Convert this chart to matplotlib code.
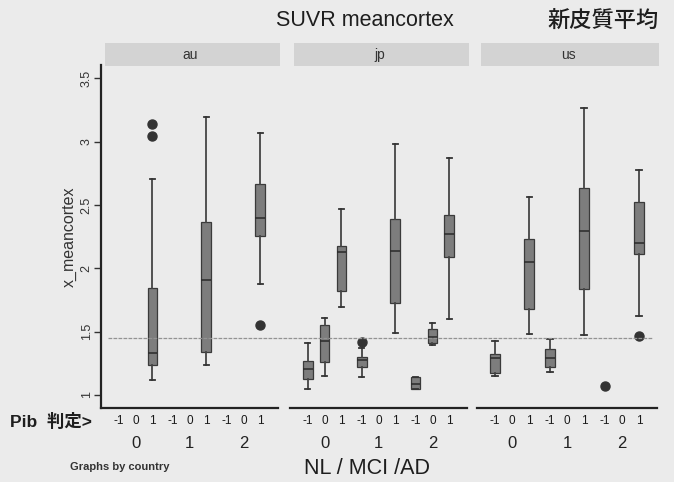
import matplotlib
matplotlib.use("Agg")
import matplotlib.pyplot as plt
from matplotlib import transforms
from matplotlib.patches import Rectangle
from matplotlib.lines import Line2D

plt.rcParams['font.family'] = ['Liberation Sans', 'Noto Sans CJK JP', 'DejaVu Sans']

# ---------------- data ----------------
countries = ["au", "jp", "us"]
groups = [0, 1, 2]            # NL / MCI / AD
pib_levels = [-1, 0, 1]       # Pib 判定
ref_value = 1.45

# each box: (group, pib)
au_keys = [(0, 1), (1, 1), (2, 1)]
au_whislo = [1.117, 1.236, 1.874]
au_q1 = [1.236, 1.341, 2.255]
au_med = [1.329, 1.905, 2.394]
au_q3 = [1.847, 2.363, 2.666]
au_whishi = [2.708, 3.197, 3.071]
au_fliers = [[3.045, 3.137], [], [1.55]]

jp_keys = [(0, -1), (0, 0), (0, 1), (1, -1), (1, 1), (2, -1), (2, 0), (2, 1)]
jp_whislo = [1.044, 1.149, 1.692, 1.144, 1.491, 1.044, 1.394, 1.602]
jp_q1 = [1.123, 1.257, 1.823, 1.223, 1.728, 1.044, 1.408, 2.087]
jp_med = [1.202, 1.428, 2.129, 1.276, 2.137, 1.086, 1.460, 2.268]
jp_q3 = [1.270, 1.552, 2.176, 1.297, 2.387, 1.144, 1.520, 2.419]
jp_whishi = [1.408, 1.610, 2.471, 1.368, 2.982, 1.144, 1.570, 2.869]
jp_fliers = [[], [], [], [1.420], [], [], [], []]

us_keys = [(0, -1), (0, 1), (1, -1), (1, 1), (2, 1)]
us_whislo = [1.149, 1.479, 1.178, 1.473, 1.626]
us_q1 = [1.176, 1.681, 1.223, 1.836, 2.113]
us_med = [1.294, 2.052, 1.289, 2.295, 2.202]
us_q3 = [1.323, 2.229, 1.360, 2.632, 2.521]
us_whishi = [1.428, 2.561, 1.442, 3.264, 2.776]
us_fliers = [[], [], [], [], [1.467]]
# single-point group (only an outside value): group 2, pib -1
us_points_keys = [(2, -1)]
us_points = [1.067]

yticks = [1, 1.5, 2, 2.5, 3, 3.5]
ytick_labels = ["1", "1.5", "2", "2.5", "3", "3.5"]

data = {
    "au": (au_keys, au_whislo, au_q1, au_med, au_q3, au_whishi, au_fliers),
    "jp": (jp_keys, jp_whislo, jp_q1, jp_med, jp_q3, jp_whishi, jp_fliers),
    "us": (us_keys, us_whislo, us_q1, us_med, us_q3, us_whishi, us_fliers),
}

# ---------------- layout ----------------
W, H = 674, 482
fig = plt.figure(figsize=(W / 100, H / 100), dpi=100)
bg = "#ebebeb"
fig.patch.set_facecolor(bg)

GROUP_STEP = 3.2


def pos(g, p):
    return GROUP_STEP * g + p


axes_px = [(101, 278), (290, 467), (477, 657)]
top_px, bot_px = 65, 408
ylim = (0.897, 3.606)

axes = []
for (x0, x1) in axes_px:
    ax = fig.add_axes([x0 / W, 1 - bot_px / H, (x1 - x0) / W, (bot_px - top_px) / H])
    ax.set_facecolor("none")
    axes.append(ax)

box_face = "#7d7d7d"
dark = "#333333"

for ax, c in zip(axes, countries):
    keys, wlo, q1, med, q3, whi, fl = data[c]
    stats = []
    positions = []
    for i, (g, p) in enumerate(keys):
        stats.append(dict(whislo=wlo[i], q1=q1[i], med=med[i], q3=q3[i],
                          whishi=whi[i], fliers=fl[i]))
        positions.append(pos(g, p))
    ax.bxp(stats, positions=positions, widths=0.58, capwidths=0.32,
           patch_artist=True, manage_ticks=False,
           boxprops=dict(facecolor=box_face, edgecolor="#3a3a3a", linewidth=0.9),
           medianprops=dict(color="#2a2a2a", linewidth=1.1),
           whiskerprops=dict(color="#444444", linewidth=1.3),
           capprops=dict(color="#333333", linewidth=1.3),
           flierprops=dict(marker="o", markersize=6.5, markerfacecolor=dark,
                           markeredgecolor=dark))
    if c == "us":
        ax.plot([pos(g, p) for (g, p) in us_points_keys], us_points, "o",
                ms=6.5, color=dark)

    ax.set_xlim(-2.05, 8.45)
    ax.set_ylim(*ylim)
    for s in ["top", "right"]:
        ax.spines[s].set_visible(False)
    ax.spines["bottom"].set_linewidth(1.6)
    ax.spines["bottom"].set_color("#222222")
    ax.set_xticks([])
    if c == "au":
        ax.spines["left"].set_linewidth(1.6)
        ax.spines["left"].set_color("#222222")
        ax.set_yticks(yticks)
        ax.set_yticklabels(ytick_labels, rotation=90, va="center", fontsize=9,
                           color="#333333")
        ax.tick_params(axis="y", length=5, width=1.0, color="#333333", pad=1)
        ax.set_ylabel("x_meancortex", fontsize=11.5, color="#333333", labelpad=3)
    else:
        ax.spines["left"].set_visible(False)
        ax.set_yticks([])

    # x labels: Pib levels and groups
    tr = transforms.blended_transform_factory(ax.transData, fig.transFigure)
    for g in groups:
        for p in pib_levels:
            ax.text(pos(g, p), 1 - 421 / H, str(p), transform=tr, ha="center",
                    va="center", fontsize=8.5, color="#1a1a1a")
        ax.text(pos(g, 0), 1 - 444 / H, str(g), transform=tr, ha="center",
                va="center", fontsize=12, color="#222222")

    # strip header
    bb = ax.get_position()
    fig.patches.append(Rectangle((bb.x0 + 4 / W, 1 - 66 / H), bb.width - 2 / W, 23 / H,
                                 transform=fig.transFigure, facecolor="#d3d3d3",
                                 edgecolor="none", zorder=0))
    fig.text(bb.x0 + bb.width / 2 + 1 / W, 1 - 55 / H, c, ha="center", va="center",
             fontsize=10, color="#333333")

# horizontal reference line across panels
trr = transforms.blended_transform_factory(fig.transFigure, axes[0].transData)
fig.lines.append(Line2D([108 / W, 652 / W], [ref_value, ref_value], transform=trr,
                        color="#939393", linewidth=0.9, linestyle=(0, (3, 1)),
                        zorder=1))

# titles and annotations
fig.text(365 / W, 1 - 20 / H, "SUVR meancortex", ha="center", va="center",
         fontsize=15.5, color="#1e1e1e")
fig.text(603 / W, 1 - 21 / H, "新皮質平均", ha="center", va="center",
         fontsize=16, color="#1e1e1e", fontweight="medium",
         family=["Noto Sans CJK JP", "DejaVu Sans"])
fig.text(10 / W, 1 - 421 / H, "Pib  判定>", ha="left", va="center",
         fontsize=12.5, fontweight="bold", color="#1e1e1e",
         family=["Liberation Sans", "Noto Sans CJK JP", "DejaVu Sans"])
fig.text(70 / W, 1 - 467 / H, "Graphs by country", ha="left", va="center",
         fontsize=8, fontweight="bold", color="#333333")
fig.text(367 / W, 1 - 468 / H, "NL / MCI /AD", ha="center", va="center",
         fontsize=15.5, color="#1e1e1e")

fig.savefig("out.png", dpi=100, facecolor=bg)
